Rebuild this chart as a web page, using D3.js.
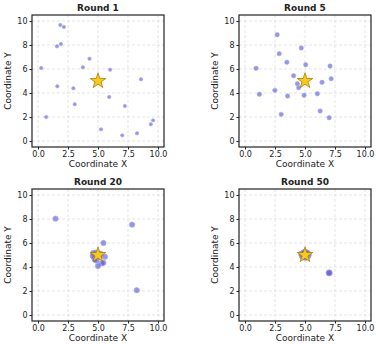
<!DOCTYPE html>
<html>
<head>
<meta charset="utf-8">
<script src="https://cdn.jsdelivr.net/npm/d3@7"></script>
<style>
  body { margin: 0; background: #fff; }
  text { font-family: "DejaVu Sans", sans-serif; fill: #222; }
  .grid line { stroke: #d8d8d8; stroke-dasharray: 3,2; stroke-width: 0.7; }
  .axis path { display: none; }
  .axis line { stroke: #222; }
  .axis text { font-size: 8px; }
</style>
</head>
<body>
<div id="chart"></div>
<script>
var width = 376;
var height = 344;

// round titles
var rounds = ["Round 1", "Round 5", "Round 20", "Round 50"];

// target location (star)
var targetX = 5, targetY = 5;

// agent positions per round
var round1X = [1.86, 2.16, 1.91, 1.58, 4.29, 3.74, 0.27, 6.01, 8.58, 1.61, 2.95, 5.93, 7.24, 3.06, 0.68, 5.25, 7.02, 8.25, 9.59, 9.40];
var round1Y = [9.67, 9.50, 8.08, 7.89, 6.86, 6.14, 6.08, 5.94, 5.14, 4.56, 4.39, 3.67, 2.92, 3.06, 2.00, 0.97, 0.47, 0.64, 1.72, 1.39];

var round5X = [2.68, 4.69, 2.85, 3.49, 5.06, 0.92, 7.09, 7.18, 4.05, 6.42, 4.36, 4.47, 2.49, 1.20, 3.55, 4.92, 6.03, 6.26, 3.02, 7.01];
var round5Y = [8.86, 7.75, 7.28, 6.56, 6.36, 6.06, 6.25, 5.19, 5.44, 4.89, 4.78, 4.44, 4.22, 3.89, 3.75, 3.81, 3.94, 2.50, 2.22, 1.94];

var round20X = [1.46, 7.84, 5.45, 8.23, 4.60, 4.69, 5.25, 5.58, 4.88, 5.30, 5.00, 5.45, 4.56, 4.80, 5.10, 4.95, 5.05, 4.90, 5.15, 4.75];
var round20Y = [8.03, 7.53, 6.00, 2.06, 5.17, 4.72, 5.08, 4.86, 4.53, 4.30, 4.08, 4.35, 4.92, 5.20, 5.10, 4.90, 4.95, 5.05, 4.85, 4.60];

var round50X = [7.00, 7.02, 5.28, 4.72, 5.22, 4.78, 5.10, 4.90, 5.18, 4.82, 5.00, 5.25, 4.75, 5.05, 4.95, 5.12, 4.88, 5.20, 4.85, 5.00];
var round50Y = [3.52, 3.50, 5.05, 5.08, 4.90, 4.92, 5.22, 5.20, 5.15, 4.85, 4.82, 5.00, 5.00, 4.80, 5.20, 4.88, 4.86, 5.10, 5.12, 5.00];

var xTicks = [0, 2.5, 5, 7.5, 10];
var yTicks = [0, 2, 4, 6, 8, 10];

var panels = [
  {title: rounds[0], xs: round1X, ys: round1Y, left: 32, top: 15, r: 1.7},
  {title: rounds[1], xs: round5X, ys: round5Y, left: 239, top: 15, r: 2.2},
  {title: rounds[2], xs: round20X, ys: round20Y, left: 32, top: 189, r: 2.7},
  {title: rounds[3], xs: round50X, ys: round50Y, left: 239, top: 189, r: 3.0}
];

var pw = 132, ph = 132;

var svg = d3.select("#chart")
  .append("svg")
  .attr("width", width)
  .attr("height", height);

var star = d3.symbol().type(d3.symbolStar).size(75);

panels.forEach(function(p) {
  var x = d3.scaleLinear().domain([-0.5, 10.5]).range([0, pw]);
  var y = d3.scaleLinear().domain([-0.5, 10.5]).range([ph, 0]);

  var g = svg.append("g")
    .attr("transform", "translate(" + p.left + "," + p.top + ")");

  // grid
  g.append("g").attr("class", "grid")
    .selectAll("line.vx").data(xTicks).enter().append("line")
    .attr("x1", function(d) { return x(d); }).attr("x2", function(d) { return x(d); })
    .attr("y1", 0).attr("y2", ph);
  g.append("g").attr("class", "grid")
    .selectAll("line.hy").data(yTicks).enter().append("line")
    .attr("y1", function(d) { return y(d); }).attr("y2", function(d) { return y(d); })
    .attr("x1", 0).attr("x2", pw);

  // axes
  g.append("g").attr("class", "axis")
    .attr("transform", "translate(0," + ph + ")")
    .call(d3.axisBottom(x).tickValues(xTicks).tickFormat(d3.format(".1f")).tickSize(2.5).tickPadding(2));
  g.append("g").attr("class", "axis")
    .call(d3.axisLeft(y).tickValues(yTicks).tickFormat(d3.format("d")).tickSize(2.5).tickPadding(2));

  // agents
  g.append("g")
    .selectAll("circle").data(p.xs).enter().append("circle")
    .attr("cx", function(d) { return x(d); })
    .attr("cy", function(d, i) { return y(p.ys[i]); })
    .attr("r", p.r)
    .attr("fill", "#5050d0")
    .attr("fill-opacity", 0.6)
    .attr("stroke", "#a8a8ee")
    .attr("stroke-opacity", 0.6)
    .attr("stroke-width", 1);

  // target star
  g.append("path")
    .attr("d", star)
    .attr("transform", "translate(" + x(targetX) + "," + y(targetY) + ")")
    .attr("fill", "#f7c81e")
    .attr("stroke", "#b07c00")
    .attr("stroke-width", 0.8);

  // frame
  g.append("rect")
    .attr("width", pw).attr("height", ph)
    .attr("fill", "none")
    .attr("stroke", "#222")
    .attr("stroke-width", 1.2);

  // labels
  g.append("text")
    .attr("x", pw / 2).attr("y", -4)
    .attr("text-anchor", "middle")
    .style("font-size", "9px").style("font-weight", "bold")
    .text(p.title);
  g.append("text")
    .attr("x", pw / 2).attr("y", ph + 19.5)
    .attr("text-anchor", "middle")
    .style("font-size", "9px")
    .text("Coordinate X");
  g.append("text")
    .attr("transform", "translate(-21," + (ph / 2) + ") rotate(-90)")
    .attr("text-anchor", "middle")
    .style("font-size", "9px")
    .text("Coordinate Y");
});
</script>
</body>
</html>
